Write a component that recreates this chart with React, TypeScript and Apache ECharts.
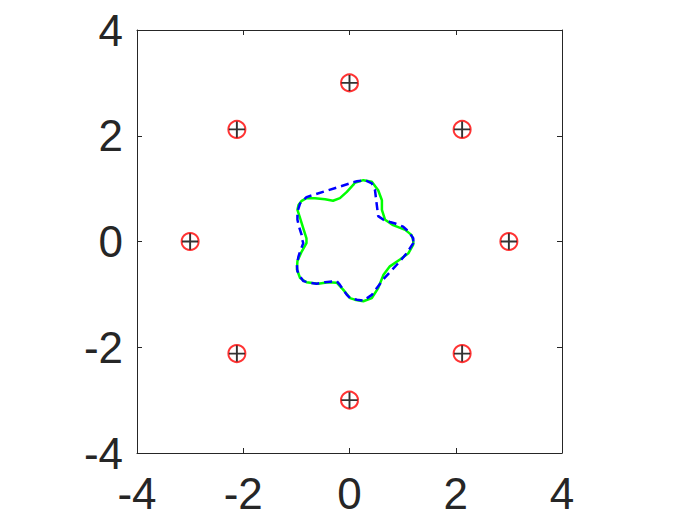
import React, { useEffect, useRef } from "react";
import * as echarts from "echarts";

const xTicks = [-4, -2, 0, 2, 4];
const yTicks = [-4, -2, 0, 2, 4];

const markerPoints: [number, number][] = [
  [3, 0], [2.12, 2.12], [0, 3], [-2.12, 2.12],
  [-3, 0], [-2.12, -2.12], [0, -3], [2.12, -2.12],
];

const greenCurve: [number, number][] = [
  [1.20, 0.01], [1.17, 0.12], [1.05, 0.22], [0.82, 0.31], [0.67, 0.41],
  [0.61, 0.60], [0.61, 0.78], [0.54, 0.97], [0.42, 1.13], [0.26, 1.16],
  [0.10, 1.11], [0.07, 1.07], [-0.05, 0.94], [-0.18, 0.82], [-0.31, 0.77],
  [-0.46, 0.80], [-0.65, 0.82], [-0.81, 0.82], [-0.90, 0.77], [-0.96, 0.69],
  [-0.98, 0.60], [-0.93, 0.44], [-0.87, 0.25], [-0.81, 0.06], [-0.81, -0.03],
  [-0.90, -0.19], [-0.98, -0.37], [-0.99, -0.53], [-0.93, -0.69], [-0.81, -0.77],
  [-0.59, -0.80], [-0.40, -0.77], [-0.24, -0.78], [-0.12, -0.91], [0.01, -1.07],
  [0.10, -1.10], [0.26, -1.13], [0.42, -1.07], [0.54, -0.88], [0.64, -0.63],
  [0.76, -0.47], [0.95, -0.34], [1.11, -0.22], [1.20, -0.06], [1.20, 0.01],
];

const blueCurve: [number, number][] = [
  [1.20, 0.00], [1.20, 0.06], [1.11, 0.19], [1.01, 0.28], [0.86, 0.34],
  [0.76, 0.37], [0.64, 0.41], [0.54, 0.48], [0.51, 0.72], [0.48, 0.97],
  [0.42, 1.10], [0.29, 1.16], [0.14, 1.14], [0.01, 1.10], [-0.81, 0.84],
  [-0.93, 0.72], [-0.98, 0.56], [-0.98, 0.41], [-0.95, 0.28], [-0.90, 0.12],
  [-0.89, 0.03], [-0.87, -0.03], [-0.93, -0.19], [-0.96, -0.28], [-0.99, -0.44],
  [-0.98, -0.56], [-0.93, -0.66], [-0.87, -0.75], [-0.74, -0.78], [-0.62, -0.80],
  [-0.46, -0.77], [-0.24, -0.75], [-0.18, -0.82], [-0.12, -0.91], [-0.05, -1.01],
  [0.01, -1.07], [0.14, -1.10], [0.26, -1.12], [0.42, -1.01], [0.64, -0.71],
  [0.89, -0.44], [1.08, -0.22], [1.20, -0.03], [1.20, 0.00],
];

const AXIS_COLOR = "#262626";
const FONT = "'Liberation Sans', Arial, Helvetica, sans-serif";

function makeAxis(ticks: number[], position: string, showLabel: boolean, isY: boolean) {
  return {
    type: "value",
    position,
    min: ticks[0],
    max: ticks[ticks.length - 1],
    interval: ticks[1] - ticks[0],
    splitLine: { show: false },
    axisLine: { show: true, onZero: false, lineStyle: { color: AXIS_COLOR, width: 1 } },
    axisTick: { show: true, inside: true, length: 5, lineStyle: { color: AXIS_COLOR, width: 1 } },
    axisLabel: {
      show: showLabel,
      color: AXIS_COLOR,
      fontSize: 44,
      fontFamily: FONT,
      margin: isY ? 14 : 18,
      showMinLabel: true,
      showMaxLabel: true,
      formatter: (v: number) => String(v),
    },
  };
}

export default function App() {
  const ref = useRef<HTMLDivElement>(null);
  useEffect(() => {
    if (!ref.current) return;
    const chart = echarts.init(ref.current, null, { renderer: "svg" });
    chart.setOption({
      animation: false,
      backgroundColor: "#ffffff",
      grid: { left: 137, right: 138, top: 30, bottom: 72, containLabel: false },
      xAxis: [
        makeAxis(xTicks, "bottom", true, false),
        makeAxis(xTicks, "top", false, false),
      ],
      yAxis: [
        makeAxis(yTicks, "left", true, true),
        makeAxis(yTicks, "right", false, true),
      ],
      series: [
        {
          type: "line",
          data: greenCurve,
          showSymbol: false,
          symbol: "none",
          lineStyle: { color: "#00ff00", width: 2.5 },
          z: 2,
        },
        {
          type: "line",
          data: blueCurve,
          showSymbol: false,
          symbol: "none",
          lineStyle: { color: "#0000ff", width: 2.5, type: [8, 5] },
          z: 3,
        },
        {
          type: "scatter",
          data: markerPoints,
          symbol: "circle",
          symbolSize: 17,
          itemStyle: { color: "rgba(0,0,0,0)", borderColor: "#ff0000", borderWidth: 2 },
          z: 4,
        },
        {
          type: "scatter",
          data: markerPoints,
          symbol: "path://M-0.12,-1L0.12,-1L0.12,1L-0.12,1ZM-1,-0.12L1,-0.12L1,0.12L-1,0.12Z",
          symbolSize: 16,
          symbolKeepAspect: true,
          itemStyle: { color: "#000000" },
          z: 5,
        },
      ],
    });
    return () => chart.dispose();
  }, []);
  return (
    <div
      ref={ref}
      style={{ position: "fixed", left: 0, top: 0, width: 700, height: 525, background: "#fff" }}
    />
  );
}
